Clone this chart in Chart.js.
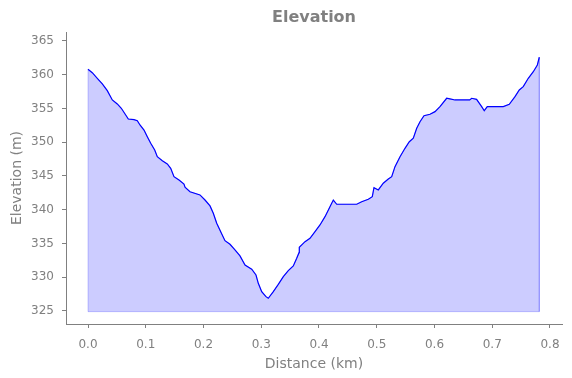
<!DOCTYPE html>
<html>
<head>
<meta charset="utf-8">
<script src="https://cdn.jsdelivr.net/npm/chart.js@4/dist/chart.umd.min.js"></script>
<style>
  html, body { margin: 0; padding: 0; background: #ffffff; }
  #wrap { width: 572px; height: 378px; }
</style>
</head>
<body>
<div id="wrap"><canvas id="c" width="572" height="378"></canvas></div>
<script>
// Distance along the track (km)
const distanceKm = [
  0.0000, 0.0074, 0.0161, 0.0248, 0.0334, 0.0421, 0.0507, 0.0577, 0.0653, 0.0698,
  0.0797, 0.0854, 0.0900, 0.0970, 0.1027, 0.1086, 0.1155, 0.1200, 0.1287, 0.1373,
  0.1432, 0.1489, 0.1576, 0.1662, 0.1680, 0.1766, 0.1939, 0.2026, 0.2113, 0.2170,
  0.2229, 0.2298, 0.2372, 0.2459, 0.2545, 0.2632, 0.2719, 0.2835, 0.2909, 0.2949,
  0.3008, 0.3082, 0.3122, 0.3209, 0.3295, 0.3382, 0.3468, 0.3555, 0.3614, 0.3654,
  0.3659, 0.3758, 0.3844, 0.3931, 0.4017, 0.4104, 0.4190, 0.4248, 0.4307, 0.4653,
  0.4739, 0.4854, 0.4923, 0.4952, 0.5027, 0.5113, 0.5200, 0.5259, 0.5316, 0.5403,
  0.5489, 0.5564, 0.5633, 0.5692, 0.5749, 0.5818, 0.5922, 0.6009, 0.6095, 0.6211,
  0.6268, 0.6355, 0.6610, 0.6644, 0.6729, 0.6817, 0.6862, 0.6914, 0.7191, 0.7295,
  0.7394, 0.7468, 0.7537, 0.7624, 0.7711, 0.7781, 0.7815
];
// Elevation (m)
const elevationM = [
  360.81, 360.30, 359.47, 358.63, 357.64, 356.26, 355.67, 355.03, 354.04, 353.44,
  353.34, 353.19, 352.56, 351.81, 350.82, 349.84, 348.85, 347.86, 347.27, 346.78,
  346.14, 344.90, 344.41, 343.81, 343.33, 342.67, 342.19, 341.44, 340.56, 339.47,
  337.99, 336.75, 335.41, 334.88, 334.04, 333.15, 331.81, 331.18, 330.33, 329.10,
  327.86, 327.12, 326.88, 327.86, 328.93, 330.08, 330.97, 331.67, 332.81, 333.64,
  334.44, 335.27, 335.77, 336.75, 337.74, 338.97, 340.45, 341.44, 340.81, 340.81,
  341.19, 341.55, 341.93, 343.27, 342.93, 343.92, 344.56, 344.90, 346.38, 347.86,
  349.10, 350.08, 350.59, 352.07, 353.04, 353.93, 354.14, 354.53, 355.27, 356.51,
  356.41, 356.26, 356.26, 356.51, 356.36, 355.27, 354.67, 355.27, 355.27, 355.62,
  356.75, 357.74, 358.23, 359.47, 360.45, 361.44, 362.59
];
const fillBase = 324.9;
const xTickValues = [0.0, 0.1, 0.2, 0.3, 0.4, 0.5, 0.6, 0.7, 0.8];
const yTickValues = [325, 330, 335, 340, 345, 350, 355, 360, 365];
const titleText = 'Elevation';
const xTitle = 'Distance (km)';
const yTitle = 'Elevation (m)';

const profile = distanceKm.map((d, i) => ({ x: d, y: elevationM[i] }));
const first = distanceKm[0], last = distanceKm[distanceKm.length - 1];
const outline = [{ x: first, y: fillBase }].concat(profile, [{ x: last, y: fillBase }, { x: first, y: fillBase }]);

const GRAY = '#808080';
const FONT = 'DejaVu Sans';

new Chart(document.getElementById('c'), {
  type: 'line',
  data: {
    datasets: [
      { data: profile, borderColor: '#0000ff', borderWidth: 1.2, pointRadius: 0, fill: false, tension: 0 },
      { data: outline, borderColor: 'rgba(0,0,255,0.2)', borderWidth: 1, pointRadius: 0, fill: false, tension: 0 },
      { data: profile, borderWidth: 0, borderColor: 'rgba(0,0,0,0)', backgroundColor: 'rgba(0,0,255,0.2)', pointRadius: 0, fill: { value: fillBase }, tension: 0 }
    ]
  },
  options: {
    responsive: false,
    animation: false,
    events: [],
    layout: { padding: { left: 0, right: 10, top: 0, bottom: 0 } },
    plugins: {
      legend: { display: false },
      tooltip: { enabled: false },
      title: {
        display: true, text: titleText, color: GRAY, fullSize: false,
        font: { family: FONT, size: 16, weight: 'bold' },
        padding: { top: 8.5, bottom: 4.3 }
      }
    },
    scales: {
      x: {
        type: 'linear', min: -0.0381, max: 0.8208,
        afterBuildTicks: s => { s.ticks = xTickValues.map(v => ({ value: v })); },
        afterFit: s => { s.height = 54; },
        ticks: { color: GRAY, font: { family: FONT, size: 12 }, padding: 10, maxRotation: 0,
                 callback: v => Number(v).toFixed(1) },
        grid: { drawOnChartArea: false, drawTicks: true, tickLength: 4, color: GRAY, tickColor: GRAY },
        border: { display: true, color: GRAY, width: 1 },
        title: { display: true, text: xTitle, color: GRAY, font: { family: FONT, size: 14 }, padding: { top: 0, bottom: 5 } }
      },
      y: {
        type: 'linear', min: 323.07, max: 366.33,
        afterBuildTicks: s => { s.ticks = yTickValues.map(v => ({ value: v })); },
        afterFit: s => { s.width = 66; },
        ticks: { color: GRAY, font: { family: FONT, size: 12 }, padding: 8,
                 callback: v => String(v) },
        grid: { drawOnChartArea: false, drawTicks: true, tickLength: 4, color: GRAY, tickColor: GRAY },
        border: { display: true, color: GRAY, width: 1 },
        title: { display: true, text: yTitle, color: GRAY, font: { family: FONT, size: 14 }, padding: { top: 8.6, bottom: 0 } }
      }
    }
  }
});
</script>
</body>
</html>
